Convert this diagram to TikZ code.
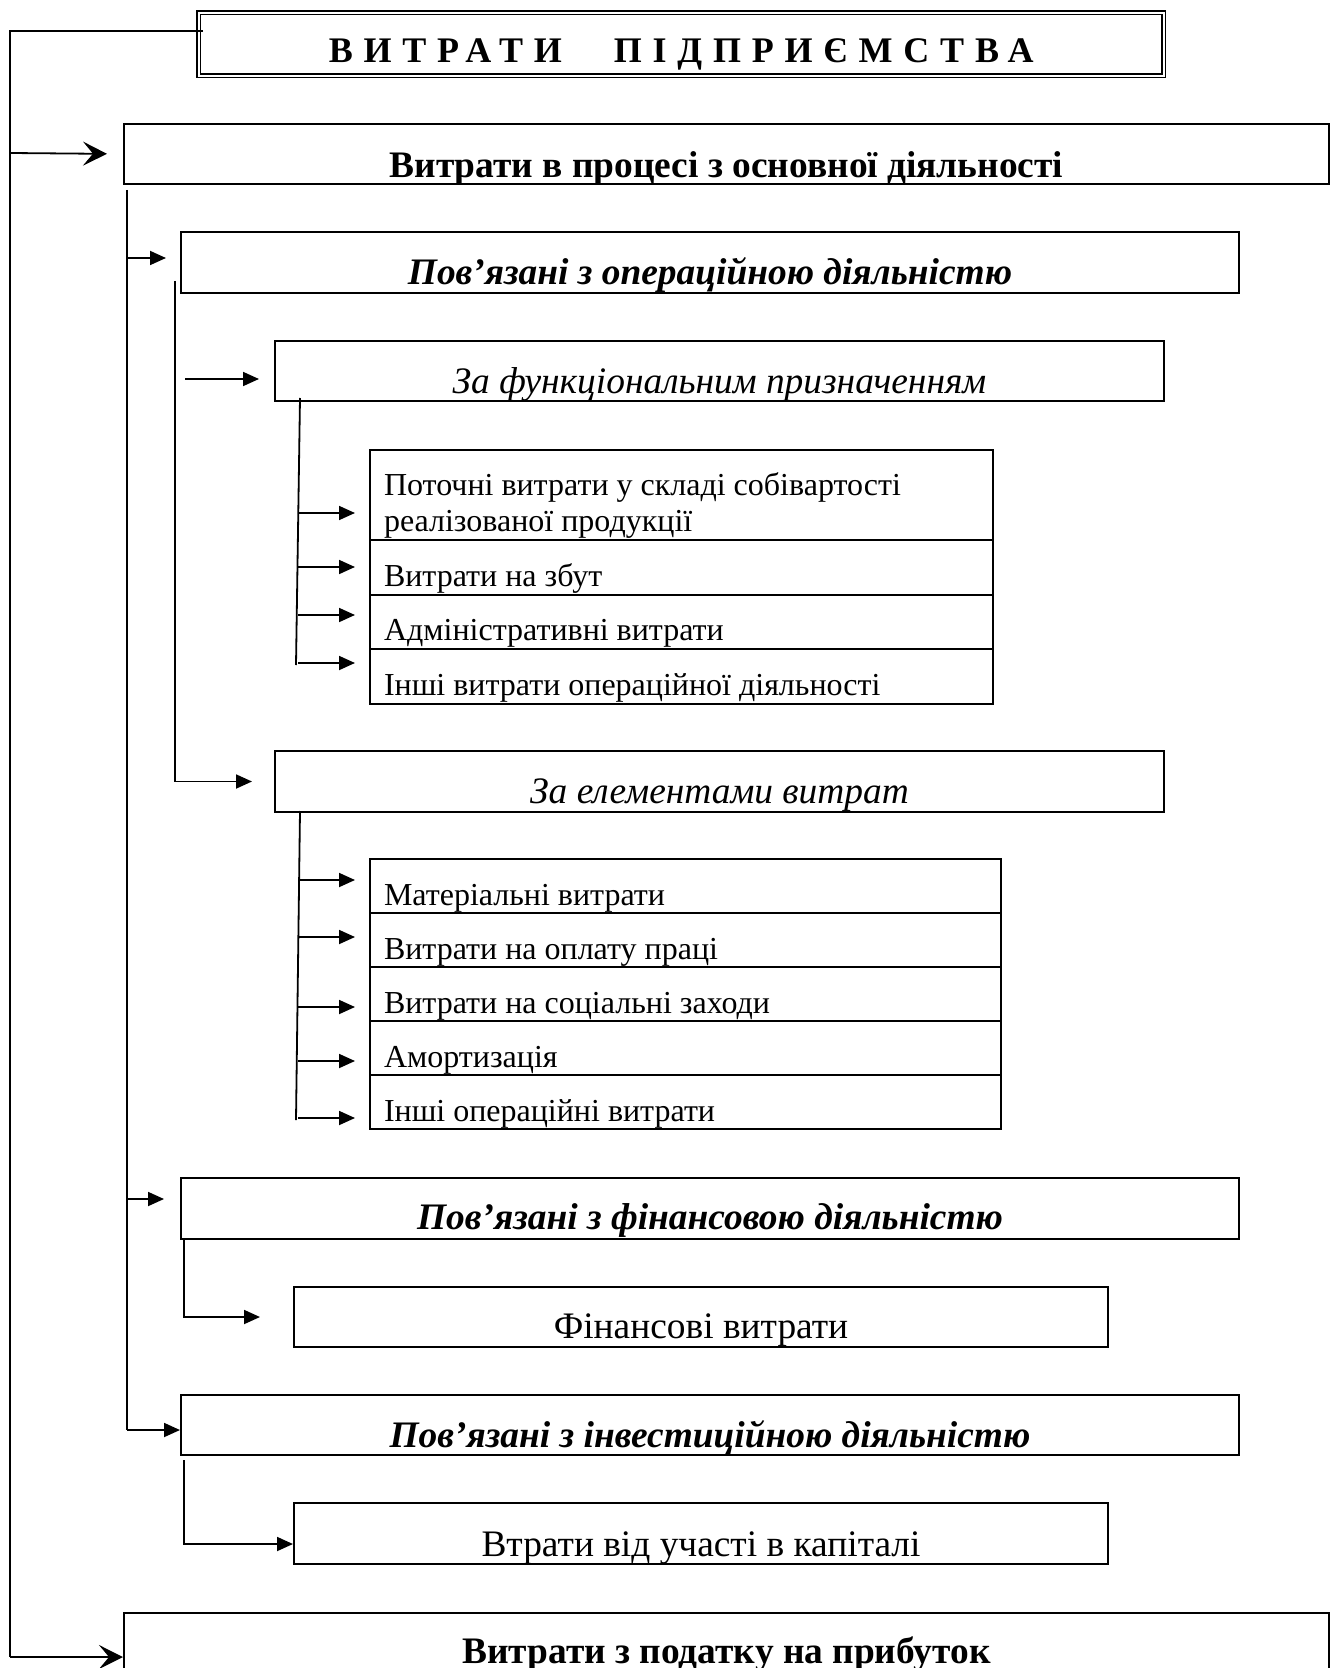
\documentclass[tikz,border=0pt]{standalone}
\usepackage{fontspec}
\setmainfont{Liberation Serif}
\usetikzlibrary{arrows.meta}

\tikzset{
  box/.style={draw, line width=1pt, inner sep=0pt, anchor=north west},
  row/.style={box, inner xsep=7pt, align=flush left, font=\fontsize{16}{18}\selectfont},
  arr/.style={-{Triangle[length=8pt,width=7pt]}},
  bigarr/.style={-{Stealth[length=12pt,width=12pt,inset=5pt]}},
  hb/.style={font=\fontsize{18.7}{22}\selectfont\bfseries},
  hbi/.style={font=\fontsize{18.7}{22}\selectfont\bfseries\itshape},
  hi/.style={font=\fontsize{18.7}{22}\selectfont\itshape},
  hr/.style={font=\fontsize{18.7}{22}\selectfont}
}

\begin{document}
\begin{tikzpicture}[x=0.5pt,y=-0.5pt,line width=0.9pt]
\useasboundingbox (0,0) rectangle (1335,1668);
\clip (0,0) rectangle (1335,1668);
\fill[white] (0,0) rectangle (1335,1668);

% boxes
\node[box, double, line width=0.7pt, double distance=1pt, minimum width=482.5pt, minimum height=31.5pt, text height=25pt, text depth=6.5pt, font=\fontsize{18}{20}\selectfont] (title) at (198,12) {\bfseries\addfontfeatures{LetterSpace=30}ВИТРАТИ\hspace{26pt}ПІДПРИЄМСТВА};
\node[box, hb, minimum width=602.5pt, minimum height=30pt, text height=27pt, text depth=3pt] (osn) at (123,123) {Витрати в процесі з основної діяльності};
\node[box, hbi, minimum width=529pt, minimum height=30.5pt, text height=26.5pt, text depth=4pt] (oper) at (180,231) {Пов’язані з операційною діяльністю};
\node[box, hi, minimum width=444.5pt, minimum height=30pt, text height=26.5pt, text depth=3.5pt] (func) at (274,340) {За функціональним призначенням};
\node[box, hi, minimum width=444.5pt, minimum height=30.5pt, text height=26pt, text depth=4.5pt] (elem) at (274,750) {За елементами витрат};
\node[box, hbi, minimum width=529pt, minimum height=30.5pt, text height=25.5pt, text depth=5pt] (fin) at (180,1177) {Пов’язані з фінансовою діяльністю};
\node[box, hr, minimum width=407pt, minimum height=30pt, text height=25.5pt, text depth=4.5pt] (finv) at (293,1286) {Фінансові витрати};
\node[box, hbi, minimum width=529pt, minimum height=30pt, text height=26pt, text depth=4pt] (inv) at (180,1394) {Пов’язані з інвестиційною діяльністю};
\node[box, hr, minimum width=407pt, minimum height=30.5pt, text height=26.5pt, text depth=4pt] (kap) at (293,1502) {Втрати від участі в капіталі};
\node[box, hb, minimum width=602.5pt, minimum height=54pt, text height=25pt, text depth=29pt] (tax) at (123,1612) {Витрати з податку на прибуток};

% tables
\foreach \y/\h/\th/\td/\t [count=\i] in {449/45pt/22.5pt/22.5pt/{Поточні витрати у складі собівартості\\реалізованої продукції},
  539/27.5pt/23pt/4.5pt/{Витрати на збут}, 594/27pt/22.5pt/4.5pt/{Адміністративні витрати},
  648/27.5pt/23pt/4.5pt/{Інші витрати операційної діяльності}}
  \node[row, text width=297.5pt, minimum height=\h, text height=\th, text depth=\td] (fa\i) at (369,\y) {\t};
\foreach \y/\t [count=\i] in {858/Матеріальні витрати, 912/Витрати на оплату праці, 966/Витрати на соціальні заходи,
  1020/Амортизація, 1074/Інші операційні витрати}
  \node[row, text width=301.5pt, minimum height=27pt, text height=23pt, text depth=4pt] (fb\i) at (369,\y) {\t};

% left trunk
\coordinate (a0) at (203,31);
\coordinate (a1) at (10,31);
\coordinate (a2) at (10,1657);
\draw[line width=0.8pt] (a0) -- (a1) -- (a2);
\draw[bigarr, shorten >=8pt] (10,153) -- (osn.west);
\draw[bigarr] (a2) -- (tax.west |- a2);

% second trunk
\draw (127,190) -- (127,1430);
\draw[arr, shorten >=7pt] (127,258) -- (oper.west |- 0,258);
\draw[arr, shorten >=8pt] (127,1199) -- (fin.west |- 0,1199);
\draw[arr] (127,1430) -- (inv.west |- 0,1430);

% operational
\draw[arr, shorten >=11pt] (175,281) |- (elem.west);
\draw[arr, shorten >=7.5pt] (185,379) -- (func.west |- 0,379);
\draw (300,398) -- (296,665);
\foreach \y in {513,567,615,663}
  \draw[arr, shorten >=7pt] (298,\y) -- (fa1.west |- 0,\y);
\draw (300,811) -- (296,1120);
\foreach \y in {880,937,1007,1061,1118}
  \draw[arr, shorten >=7pt] (298,\y) -- (fb1.west |- 0,\y);

% financial, investment
\draw[arr, shorten >=16.5pt] (184,1238) |- (finv.west);
\draw[arr] (184,1460) |- (kap.west |- 0,1544);
\end{tikzpicture}
\end{document}
